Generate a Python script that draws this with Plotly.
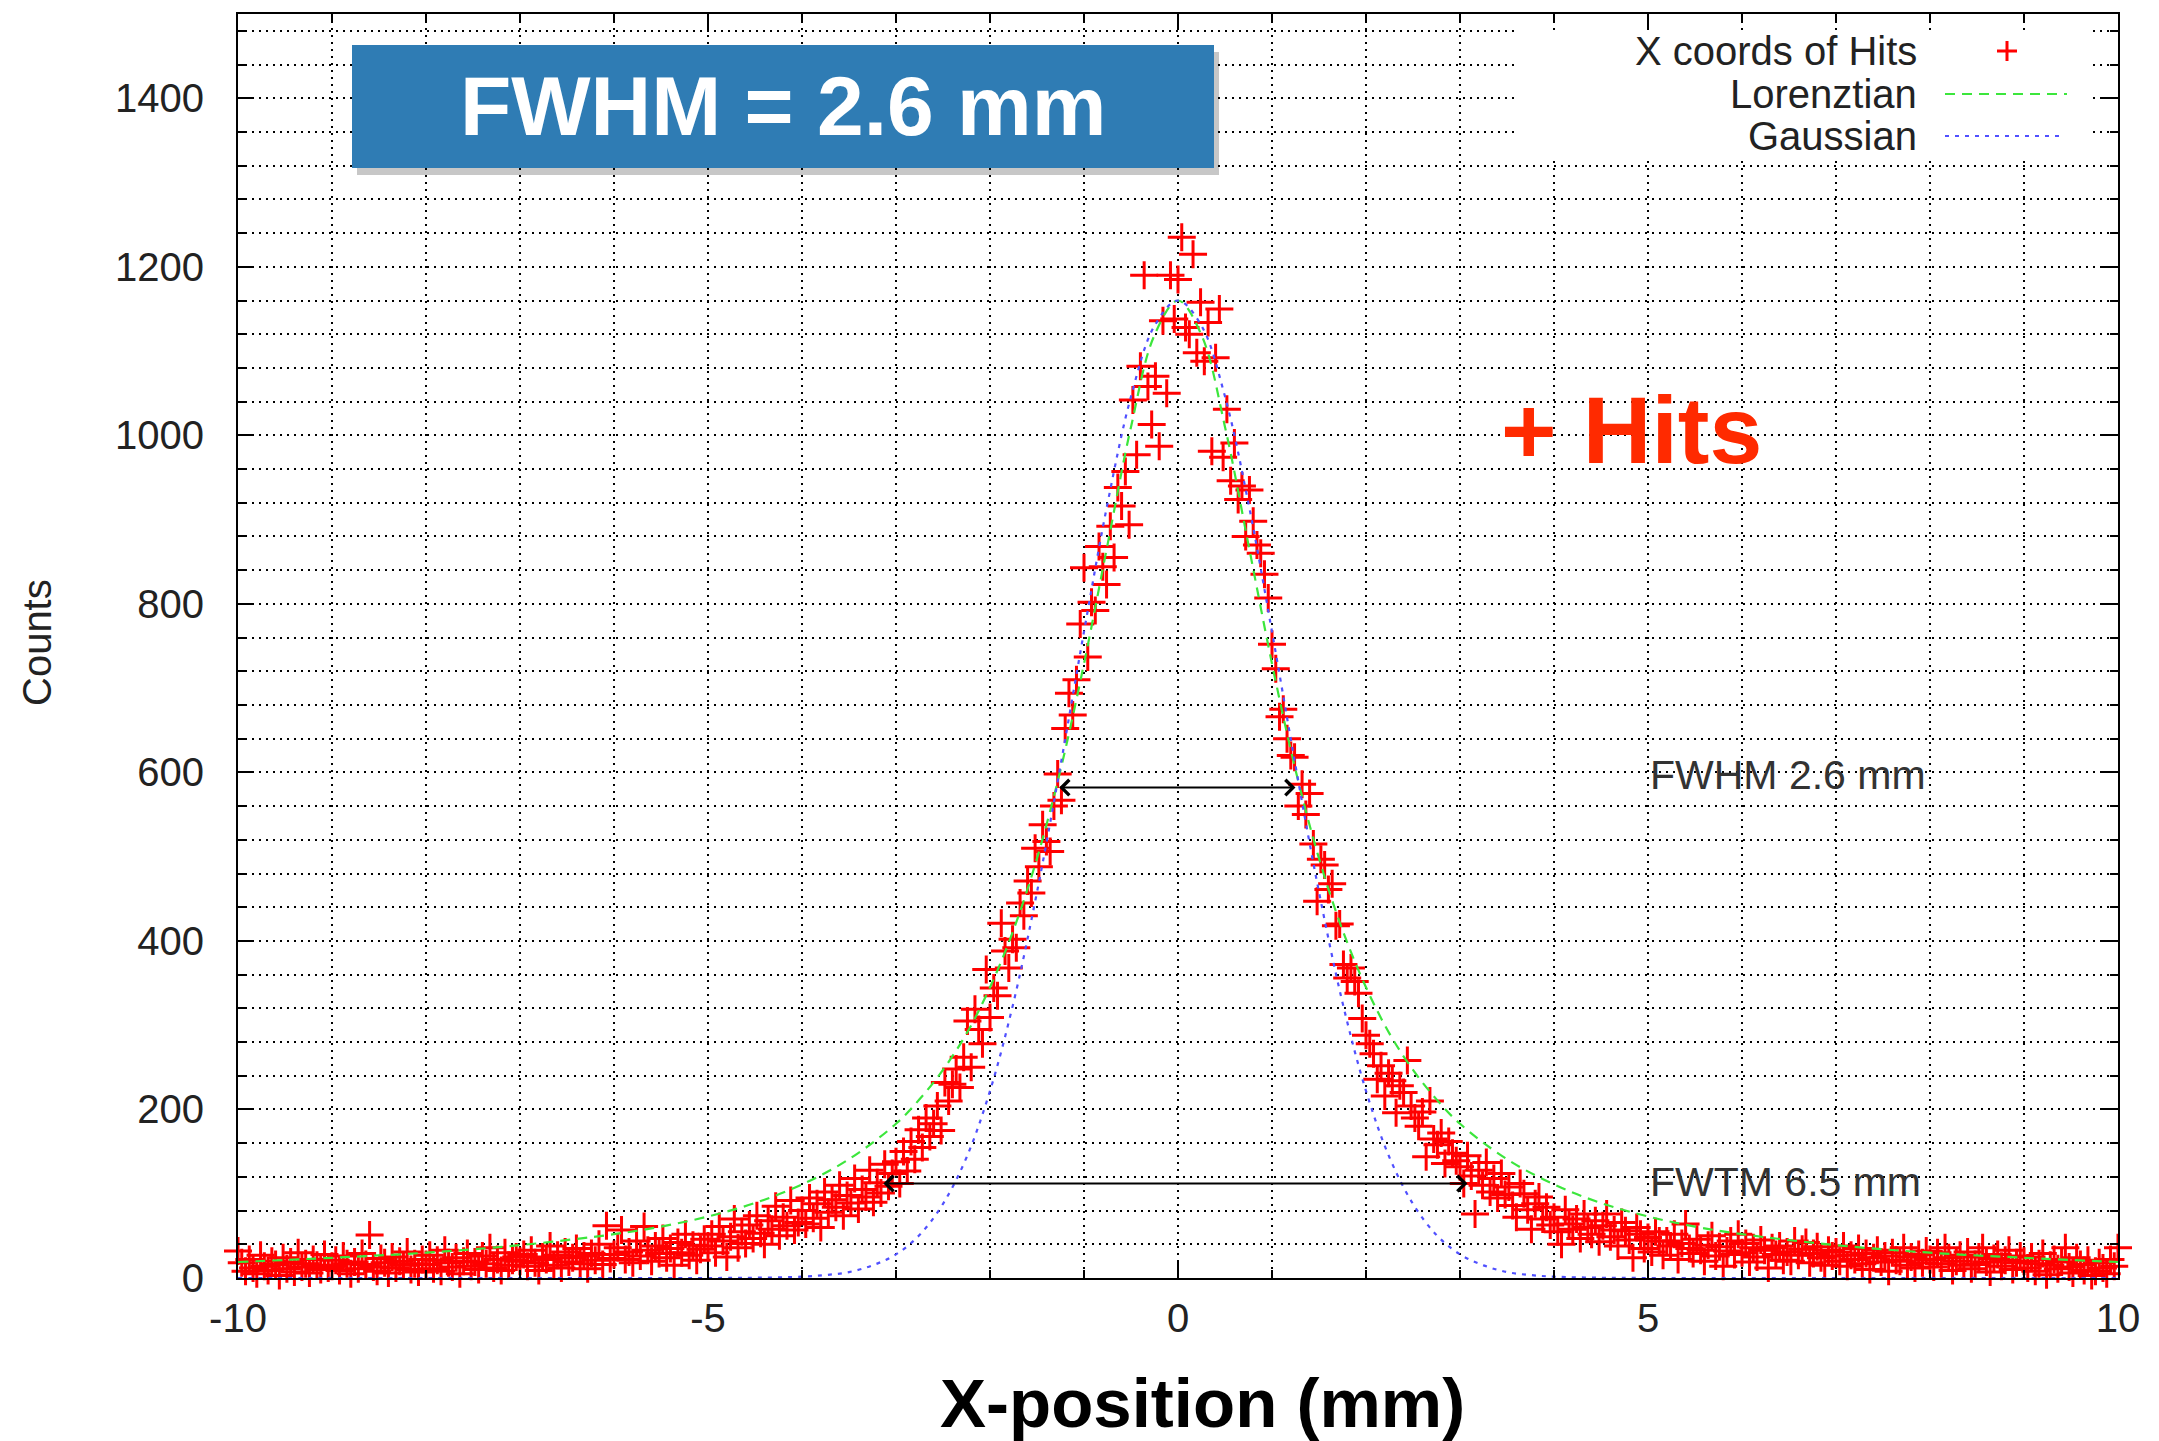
import plotly.graph_objects as go

# ---------------- data ----------------
bin_start = -10.0
bin_width = 0.04
hit_counts = [
    # -10.00 .. -9.04
    32, 18, 8, 22, 12, 5, 27, 14, 9, 20, 16, 3, 24, 11, 19, 7, 30, 13, 17, 6, 22, 15, 10, 28, 12,
    # -9.00 .. -8.04
    14, 21, 9, 26, 17, 5, 19, 11, 29, 16, 51, 13, 8, 23, 18, 6, 25, 12, 20, 15, 31, 10, 17, 7, 22,
    # -8.00 .. -7.04
    16, 27, 11, 21, 8, 33, 18, 13, 24, 5, 20, 29, 14, 19, 10, 26, 17, 36, 12, 22, 9, 30, 15, 21, 25,
    # -7.00 .. -6.04
    20, 28, 14, 33, 18, 9, 25, 22, 38, 15, 27, 12, 31, 19, 24, 35, 17, 26, 11, 29, 21, 40, 16, 62, 23,
    # -6.00 .. -5.04
    28, 36, 57, 22, 31, 18, 44, 26, 61, 33, 20, 38, 29, 47, 24, 35, 15, 42, 30, 52, 27, 39, 21, 34, 46,
    # -5.00 .. -4.04
    38, 52, 30, 61, 44, 25, 49, 70, 36, 55, 41, 63, 47, 74, 53, 40, 68, 58, 85, 50, 72, 62, 92, 57, 66,
    # -4.00 .. -3.04
    80, 64, 95, 71, 88, 60, 102, 78, 93, 84, 110, 74, 98, 89, 118, 82, 105, 96, 128, 90, 113, 101, 135, 109, 124,
    # -3.00 .. -2.04
    138, 112, 150, 127, 162, 141, 176, 155, 190, 168, 183, 204, 175, 232, 210, 230, 248, 226, 262, 305, 250, 319, 295, 278, 366,
    # -2.00 .. -1.04
    309, 344, 335, 421, 388, 368, 402, 392, 445, 430, 471, 457, 510, 488, 538, 518, 506, 560, 598, 567, 652, 694, 668, 710, 776,
    # -1.00 .. -0.04
    843, 737, 802, 792, 868, 844, 823, 892, 855, 938, 916, 957, 894, 1042, 977, 1082, 1190, 1058, 1013, 1070, 987, 1136, 1050, 1190, 1138,
    # 0.00 .. 0.96
    1185, 1235, 1128, 1120, 1215, 1098, 1158, 1088, 1134, 981, 1092, 1150, 974, 1031, 946, 991, 924, 940, 880, 935, 898, 870, 860, 835, 807,
    # 1.00 .. 1.96
    752, 723, 666, 675, 640, 620, 618, 560, 586, 550, 575, 515, 447, 497, 490, 461, 468, 418, 420, 372, 356, 368, 352, 338, 308,
    # 2.00 .. 2.96
    288, 278, 266, 236, 252, 216, 243, 234, 196, 228, 220, 258, 204, 190, 180, 197, 144, 210, 165, 158, 172, 136, 162, 148, 139,
    # 3.00 .. 3.96
    132, 112, 145, 121, 76, 128, 110, 137, 102, 118, 95, 124, 99, 108, 86, 72, 112, 100, 81, 58, 88, 96, 70, 84, 63,
    # 4.00 .. 4.96
    72, 55, 40, 81, 64, 58, 70, 47, 76, 60, 52, 68, 43, 62, 76, 49, 57, 38, 66, 56, 45, 24, 60, 52, 35,
    # 5.00 .. 5.96
    48, 31, 55, 44, 27, 44, 38, 52, 22, 41, 64, 35, 29, 46, 33, 20, 39, 50, 26, 37, 14, 32, 44, 28, 52,
    # 6.00 .. 6.96
    30, 41, 19, 36, 25, 45, 33, 12, 36, 28, 38, 21, 31, 20, 44, 27, 34, 42, 18, 29, 37, 24, 15, 33, 26,
    # 7.00 .. 7.96
    31, 20, 38, 14, 27, 22, 35, 17, 29, 10, 24, 33, 19, 26, 8, 30, 21, 20, 36, 15, 25, 12, 28, 18, 32,
    # 8.00 .. 8.96
    22, 13, 30, 17, 36, 24, 9, 20, 27, 15, 31, 11, 16, 25, 36, 19, 7, 23, 28, 14, 21, 33, 10, 18, 26,
    # 9.00 .. 10.00
    20, 12, 25, 8, 17, 29, 4, 15, 22, 11, 19, 36, 13, 6, 24, 16, 9, 21, 3, 8, 18, 12, 5, 22, 14, 36,
]
hit_x = [round(bin_start + bin_width * i, 2) for i in range(len(hit_counts))]

lorentz_x = [-10, -9, -8, -7, -6, -5.5, -5, -4.5, -4, -3.5, -3, -2.75, -2.5, -2.25, -2, -1.75,
             -1.5, -1.25, -1, -0.75, -0.5, -0.25, 0, 0.25, 0.5, 0.75, 1, 1.25, 1.5, 1.75, 2,
             2.25, 2.5, 2.75, 3, 3.5, 4, 4.5, 5, 5.5, 6, 7, 8, 9, 10]
lorentz_y = [19, 24, 30, 39, 52, 61, 73, 89, 111, 141, 183, 212, 247, 290, 345, 413,
             498, 603, 729, 870, 1010, 1119, 1160, 1119, 1010, 870, 729, 603, 498, 413, 345,
             290, 247, 212, 183, 141, 111, 89, 73, 61, 52, 39, 30, 24, 19]

gauss_x = [-10, -7, -5, -4.5, -4, -3.75, -3.5, -3.25, -3, -2.75, -2.5, -2.25, -2, -1.75, -1.5,
           -1.25, -1, -0.75, -0.5, -0.25, 0, 0.25, 0.5, 0.75, 1, 1.25, 1.5, 1.75, 2, 2.25,
           2.5, 2.75, 3, 3.25, 3.5, 3.75, 4, 4.5, 5, 7, 10]
gauss_y = [0, 0, 0, 0.3, 1.6, 3.5, 7, 15, 28, 51, 88, 143, 222, 327, 458,
           608, 767, 919, 1046, 1130, 1160, 1130, 1046, 919, 767, 608, 458, 327, 222, 143,
           88, 51, 28, 15, 7, 3.5, 1.6, 0.3, 0, 0, 0]

x_tick_vals = [-10, -5, 0, 5, 10]
x_tick_text = ["-10", "-5", "0", "5", "10"]
y_tick_vals = [0, 200, 400, 600, 800, 1000, 1200, 1400]
y_tick_text = ["0", "200", "400", "600", "800", "1000", "1200", "1400"]

fwhm_arrow = (-1.28, 1.25, 582)
fwtm_arrow = (-3.15, 3.08, 112)

legend_names = ["X coords of Hits", "Lorenztian", "Gaussian"]

# ---------------- styling ----------------
FONT = "Liberation Sans"
TXT = "#222222"
GRID = dict(gridcolor="black", gridwidth=2, griddash="2px,5px")
GREEN = "rgb(60,230,60)"
BLUE = "rgb(80,80,255)"

W, H = 2159, 1441
L, R, T, B = 238, 41, 14, 163
PW, PH = W - L - R, H - T - B


def px(xp):
    return (xp - L) / PW


def py(yp):
    return (H - B - yp) / PH


fig = go.Figure()

fig.add_trace(go.Scatter(
    x=hit_x, y=hit_counts, mode="markers", name=legend_names[0],
    marker=dict(symbol="cross-thin", size=20, line=dict(color="#ff0000", width=3)),
    cliponaxis=False, showlegend=False))

fig.add_trace(go.Scatter(
    x=lorentz_x, y=lorentz_y, mode="lines", name=legend_names[1],
    line=dict(color=GREEN, width=2.2, dash="10px,7px", shape="spline"),
    showlegend=False))

fig.add_trace(go.Scatter(
    x=gauss_x, y=gauss_y, mode="lines", name=legend_names[2],
    line=dict(color=BLUE, width=2.2, dash="4px,6px", shape="spline"),
    showlegend=False))

axis_common = dict(
    ticks="inside", tickwidth=2, tickcolor="black",
    showline=True, linecolor="black", linewidth=2, mirror="ticks",
    showgrid=True, zeroline=False,
    tickfont=dict(family=FONT, size=40, color=TXT),
    tickmode="array", **GRID)

fig.update_xaxes(
    range=[-10, 10], tickvals=x_tick_vals, ticktext=x_tick_text, ticklen=16,
    ticklabelstandoff=4,
    minor=dict(tick0=-10, dtick=1, ticks="inside", ticklen=8, tickwidth=1.5,
               tickcolor="black", showgrid=True, **GRID),
    **axis_common)
fig.update_yaxes(
    range=[0, 1500], tickvals=y_tick_vals, ticktext=y_tick_text, ticklen=16,
    ticklabelstandoff=24,
    minor=dict(tick0=0, dtick=40, ticks="inside", ticklen=8, tickwidth=1.5,
               tickcolor="black", showgrid=True, **GRID),
    **axis_common)

shapes = []
# blue FWHM box with shadow
shapes.append(dict(type="rect", xref="paper", yref="paper", layer="above",
                   x0=px(352 + 5), x1=px(1214 + 5), y0=py(168 + 7), y1=py(45 + 7),
                   fillcolor="rgba(0,0,0,0.22)", line=dict(width=0)))
shapes.append(dict(type="rect", xref="paper", yref="paper", layer="above",
                   x0=px(352), x1=px(1214), y0=py(168), y1=py(45),
                   fillcolor="#2f7cb4", line=dict(width=0)))
# white legend box
shapes.append(dict(type="rect", xref="paper", yref="paper", layer="above",
                   x0=px(1515), x1=px(2088), y0=py(160), y1=py(30),
                   fillcolor="white", line=dict(width=0)))
# legend samples
cx, cy = px(2007), py(51)
shapes.append(dict(type="line", xref="paper", yref="paper", layer="above",
                   x0=cx - 10 / PW, x1=cx + 10 / PW, y0=cy, y1=cy,
                   line=dict(color="#ff0000", width=3)))
shapes.append(dict(type="line", xref="paper", yref="paper", layer="above",
                   x0=cx, x1=cx, y0=cy - 10 / PH, y1=cy + 10 / PH,
                   line=dict(color="#ff0000", width=3)))
shapes.append(dict(type="line", xref="paper", yref="paper", layer="above",
                   x0=px(1945), x1=px(2067), y0=py(94), y1=py(94),
                   line=dict(color=GREEN, width=2.2, dash="10px,7px")))
shapes.append(dict(type="line", xref="paper", yref="paper", layer="above",
                   x0=px(1945), x1=px(2060), y0=py(136), y1=py(136),
                   line=dict(color=BLUE, width=2.2, dash="4px,6px")))
fig.update_layout(shapes=shapes)

ann = []
for name, yy in zip(legend_names, [51, 94, 136]):
    ann.append(dict(xref="paper", yref="paper", x=px(1919), y=py(yy), text=name,
                    showarrow=False, xanchor="right", yanchor="middle",
                    font=dict(family=FONT, size=40, color=TXT)))

ann.append(dict(xref="paper", yref="paper", x=px(783), y=py(106), text="FWHM = 2.6 mm",
                showarrow=False, xanchor="center", yanchor="middle",
                font=dict(family=FONT, size=84, color="white", weight="bold")))
ann.append(dict(xref="paper", yref="paper", x=px(1631), y=py(430), text="+ Hits",
                showarrow=False, xanchor="center", yanchor="middle",
                font=dict(family=FONT, size=95, color="#ff2a00", weight="bold")))
ann.append(dict(xref="paper", yref="paper", x=px(1202), y=py(1403), text="X-position (mm)",
                showarrow=False, xanchor="center", yanchor="middle",
                font=dict(family=FONT, size=69, color="black", weight="bold")))
ann.append(dict(xref="paper", yref="paper", x=px(37), y=py(643), text="Counts",
                showarrow=False, xanchor="center", yanchor="middle", textangle=-90,
                font=dict(family=FONT, size=40, color=TXT)))

ann.append(dict(x=5, y=597, xref="x", yref="y", text="FWHM 2.6 mm", showarrow=False,
                xanchor="left", yanchor="middle", font=dict(family=FONT, size=41, color="#333")))
ann.append(dict(x=5, y=114, xref="x", yref="y", text="FWTM 6.5 mm", showarrow=False,
                xanchor="left", yanchor="middle", font=dict(family=FONT, size=41, color="#333")))

for (a0, a1, ay) in [fwhm_arrow, fwtm_arrow]:
    ann.append(dict(x=a1, y=ay, ax=a0, ay=ay, xref="x", yref="y", axref="x", ayref="y",
                    text="", showarrow=True, arrowside="end+start",
                    arrowhead=4, startarrowhead=4, arrowsize=1.5, startarrowsize=1.5,
                    arrowwidth=2, arrowcolor="black", standoff=0, startstandoff=0))

fig.update_layout(
    annotations=ann,
    width=W, height=H,
    margin=dict(l=L, r=R, t=T, b=B, pad=0),
    paper_bgcolor="white", plot_bgcolor="white",
    showlegend=False,
    font=dict(family=FONT, color=TXT),
)

fig.write_html(
    "out.html",
    config={"displayModeBar": False},
    post_script="document.body.style.margin='0px';document.body.style.overflow='hidden';",
)
